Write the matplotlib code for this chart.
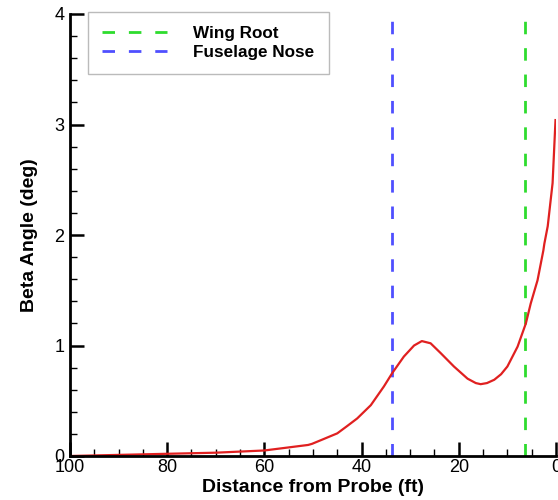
import numpy as np
import matplotlib.pyplot as plt
from matplotlib.ticker import MultipleLocator

# distance from probe (ft) and beta angle (deg)
dist = [100, 90, 80, 70, 60, 54.6, 51, 50.2, 48, 45, 43, 40.9, 38.1, 35.4,
        33.7, 31.3, 29.2, 27.6, 25.8, 23.7, 21, 18.2, 16.5, 15.5, 14.2, 12.7,
        11.3, 10, 7.9, 6.2, 5.2, 3.8, 2.6, 2.4, 1.7, 0.7, 0.1]
beta = [0.0, 0.01, 0.02, 0.03, 0.05, 0.08, 0.10, 0.11, 0.15, 0.205, 0.27,
        0.34, 0.46, 0.63, 0.75, 0.90, 1.0, 1.04, 1.02, 0.93, 0.81, 0.70, 0.66,
        0.65, 0.66, 0.69, 0.74, 0.81, 0.99, 1.20, 1.38, 1.59, 1.86, 1.92, 2.08,
        2.47, 3.04]

wing_root = 6.3
fuselage_nose = 33.7

plt.rcParams['font.family'] = ['Liberation Sans', 'DejaVu Sans']

fig = plt.figure(figsize=(5.58, 5.0), dpi=100)
ax = fig.add_axes([0.1254, 0.088, 0.8710, 0.884])

ax.axvline(wing_root, color='#2edc2e', lw=2, linestyle=(0, (4.5, 5)), label='Wing Root')
ax.axvline(fuselage_nose, color='#4f4fff', lw=2, linestyle=(0, (4.5, 5)), label='Fuselage Nose')
ax.plot(dist, beta, color='#e02020', lw=1.6)

ax.set_xlim(100, 0)
ax.set_ylim(0, 4)
ax.xaxis.set_major_locator(MultipleLocator(20))
ax.xaxis.set_minor_locator(MultipleLocator(5))
ax.yaxis.set_major_locator(MultipleLocator(1))
ax.yaxis.set_minor_locator(MultipleLocator(0.2))
ax.tick_params(which='major', direction='in', length=10, width=1.8, labelsize=13)
ax.tick_params(axis='x', which='major', pad=2)
ax.tick_params(axis='y', which='major', pad=4)
ax.tick_params(which='minor', direction='in', length=5, width=1)
for s in ['top', 'right']:
    ax.spines[s].set_visible(False)
for s in ['left', 'bottom']:
    ax.spines[s].set_linewidth(2)

ax.set_xlabel('Distance from Probe (ft)', fontsize=14, fontweight='bold', labelpad=2)
ax.set_ylabel('Beta Angle (deg)', fontsize=14, fontweight='bold', labelpad=12)

leg = ax.legend(loc='upper left', bbox_to_anchor=(0.037, 1.005), fancybox=False,
                prop={'weight': 'bold', 'size': 12.3}, handlelength=3.8, handletextpad=1.5,
                borderpad=0.85, labelspacing=0.2, borderaxespad=0)
leg.get_frame().set_edgecolor('#aaaaaa')
leg.get_frame().set_linewidth(1)

fig.savefig('out.png', dpi=100)
